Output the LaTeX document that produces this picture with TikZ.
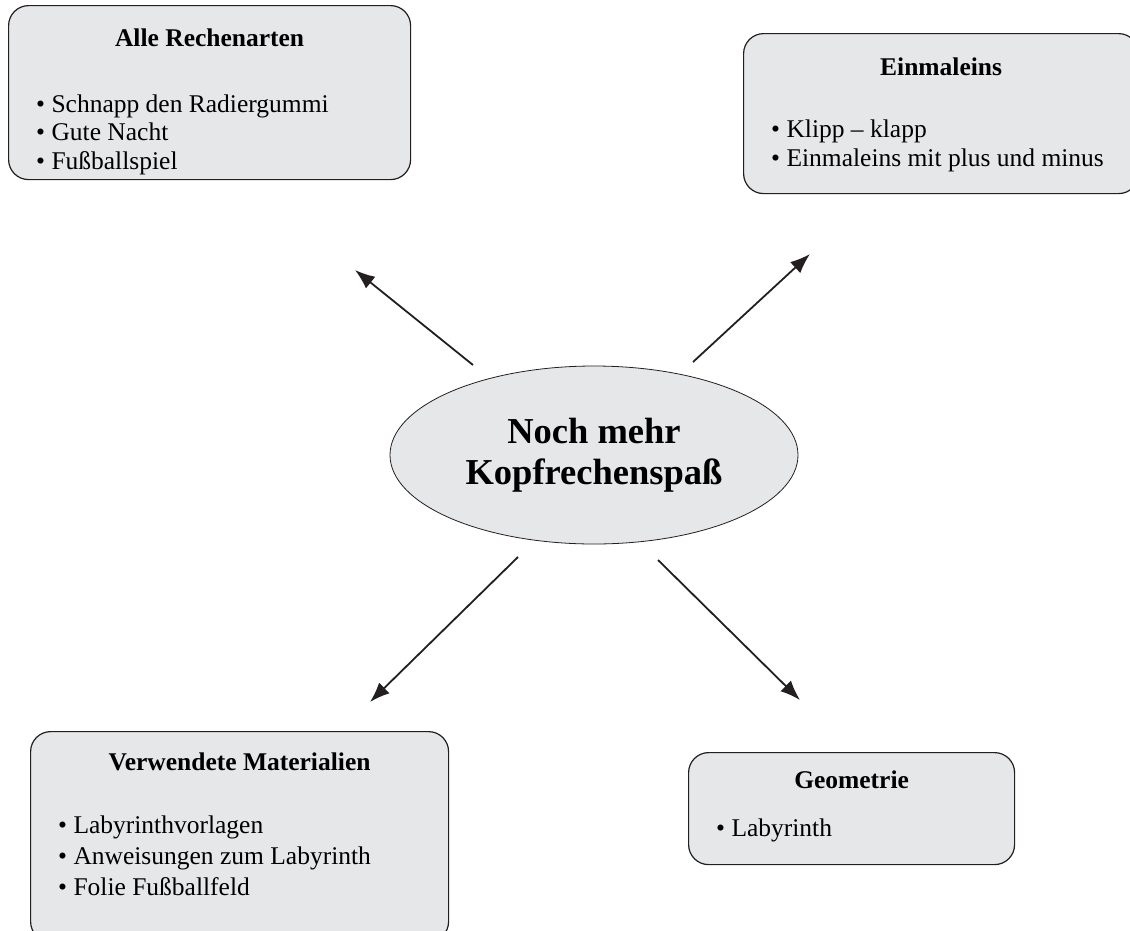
\documentclass[tikz,border=0pt]{standalone}
\usepackage{fontspec}
\setmainfont{Liberation Serif}
\usetikzlibrary{calc}
\usetikzlibrary{positioning}
\usetikzlibrary{shapes}
\usetikzlibrary{arrows.meta}
\definecolor{boxgrau}{HTML}{E6E7E9}
\definecolor{tinte}{HTML}{231F20}

\begin{document}
\begin{tikzpicture}[x=1pt,y=-1pt,
    themabox/.style={draw=tinte, line width=1.2pt, fill=boxgrau, rounded corners=20pt,
                     anchor=north west, inner sep=0pt},
    titel/.style={font=\fontsize{25.5}{30}\selectfont\bfseries, anchor=base, inner sep=0pt},
    eintrag/.style={font=\fontsize{25.5}{30}\selectfont, anchor=base west, inner sep=0pt},
    pfeil/.style={draw=tinte, line width=1.8pt, -{Latex[length=20pt,width=15pt]}}]

  \useasboundingbox (0,0) rectangle (1130,930);

  % mitte
  \node[ellipse, draw=tinte, line width=0.8pt, fill=boxgrau, minimum width=408pt,
        minimum height=178pt, inner sep=0pt, align=center,
        font=\fontsize{36.5}{41}\selectfont\bfseries] (kopf) at (594,455)
        {Noch mehr\\Kopfrechenspaß};

  % kaesten
  \node[themabox, minimum width=402pt, minimum height=174pt] (rechen) at (8,5) {};
  \node[themabox, minimum width=395pt, minimum height=160pt] (einmal) at (743,33) {};
  \node[themabox, minimum width=418pt, minimum height=210pt] (material) at (30,731) {};
  \node[themabox, minimum width=326pt, minimum height=112pt] (geo) at (688,752) {};

  \node[titel] (rechenT) at ($(rechen.north)+(0,41)$) {Alle Rechenarten};
  \node[titel] (einmalT) at ($(einmal.north)+(0,42)$) {Einmaleins};
  \node[titel] (materialT) at ($(material.north)+(0,39)$) {Verwendete Materialien};
  \node[titel] (geoT) at ($(geo.north)+(0,36)$) {Geometrie};

  \foreach \zeile [count=\i] in {Schnapp den Radiergummi, Gute Nacht, Fußballspiel}
    \node[eintrag] at ($(rechen.north west)+(28,{107+28.5*(\i-1)})$) {\textbullet\ \zeile};
  \foreach \zeile [count=\i] in {Klipp -- klapp, Einmaleins mit plus und minus}
    \node[eintrag] at ($(einmal.north west)+(28,{104+29*(\i-1)})$) {\textbullet\ \zeile};
  \foreach \zeile [count=\i] in {Labyrinthvorlagen, Anweisungen zum Labyrinth, Folie Fußballfeld}
    \node[eintrag] at ($(material.north west)+(28,{102+31*(\i-1)})$) {\textbullet\ \zeile};
  \node[eintrag] (geoL) at ($(geo.north west)+(28,84)$) {\textbullet\ Labyrinth};

  % pfeile
  \coordinate (nwA) at (473,365);
  \coordinate (nwB) at (355,270);
  \coordinate (noA) at (693,362);
  \coordinate (noB) at (810,254);
  \coordinate (swA) at (518,557);
  \coordinate (swB) at (370,702);
  \coordinate (soA) at (658,560);
  \coordinate (soB) at (800,700);

  \draw[pfeil] (nwA) -- (nwB);
  \draw[pfeil] (noA) -- (noB);
  \draw[pfeil] (swA) -- (swB);
  \draw[pfeil] (soA) -- (soB);
\end{tikzpicture}
\end{document}
